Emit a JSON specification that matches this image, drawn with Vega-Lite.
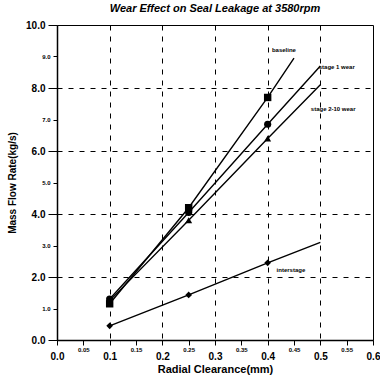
{
  "$schema": "https://vega.github.io/schema/vega-lite/v6.json",
  "width": 316,
  "height": 315,
  "autosize": {"type": "none"},
  "padding": {"left": 57, "top": 25, "right": 7, "bottom": 42},
  "background": "white",
  "config": {
    "font": "Liberation Sans",
    "view": {"stroke": "black", "strokeWidth": 1},
    "axis": {
      "domainColor": "black",
      "domainWidth": 1.5,
      "tickColor": "black",
      "labelColor": "black",
      "titleColor": "black",
      "gridColor": "black",
      "gridDash": [5, 6],
      "gridWidth": 1
    }
  },
  "title": {
    "text": "Wear Effect on Seal Leakage at 3580rpm",
    "fontSize": 11,
    "fontStyle": "italic",
    "fontWeight": "bold",
    "color": "black",
    "offset": 6
  },
  "datasets": {
    "flow": [
      {"series": "baseline", "clearance": 0.1, "rate": 1.15, "measured": true},
      {"series": "baseline", "clearance": 0.25, "rate": 4.2, "measured": true},
      {"series": "baseline", "clearance": 0.4, "rate": 7.7, "measured": true},
      {"series": "baseline", "clearance": 0.45, "rate": 8.95, "measured": false},
      {"series": "stage 1 wear", "clearance": 0.1, "rate": 1.3, "measured": true},
      {"series": "stage 1 wear", "clearance": 0.25, "rate": 4.05, "measured": true},
      {"series": "stage 1 wear", "clearance": 0.4, "rate": 6.85, "measured": true},
      {"series": "stage 1 wear", "clearance": 0.5, "rate": 8.7, "measured": false},
      {"series": "stage 2-10 wear", "clearance": 0.1, "rate": 1.25, "measured": true},
      {"series": "stage 2-10 wear", "clearance": 0.25, "rate": 3.8, "measured": true},
      {"series": "stage 2-10 wear", "clearance": 0.4, "rate": 6.4, "measured": true},
      {"series": "stage 2-10 wear", "clearance": 0.5, "rate": 8.1, "measured": false},
      {"series": "interstage", "clearance": 0.1, "rate": 0.45, "measured": true},
      {"series": "interstage", "clearance": 0.25, "rate": 1.43, "measured": true},
      {"series": "interstage", "clearance": 0.4, "rate": 2.45, "measured": true},
      {"series": "interstage", "clearance": 0.5, "rate": 3.1, "measured": false}
    ],
    "notes": [
      {"label": "baseline", "clearance": 0.408, "rate": 9.2},
      {"label": "stage 1 wear", "clearance": 0.497, "rate": 8.67},
      {"label": "stage 2-10 wear", "clearance": 0.482, "rate": 7.33},
      {"label": "interstage", "clearance": 0.417, "rate": 2.22}
    ]
  },
  "encoding": {
    "x": {
      "field": "clearance",
      "type": "quantitative",
      "scale": {"domain": [0, 0.6], "nice": false, "zero": false},
      "axis": {
        "title": "Radial Clearance(mm)",
        "titleFontSize": 11,
        "titleFontWeight": "bold",
        "titlePadding": 2,
        "values": [0, 0.05, 0.1, 0.15, 0.2, 0.25, 0.3, 0.35, 0.4, 0.45, 0.5, 0.55, 0.6],
        "labelExpr": "round(datum.value*100) % 10 == 5 ? format(datum.value, '.2f') : format(datum.value, '.1f')",
        "labelFontSize": {"condition": {"test": "round(datum.value*100) % 10 == 5", "value": 6}, "value": 10},
        "labelFontWeight": "bold",
        "labelPadding": {"condition": {"test": "round(datum.value*100) % 10 == 5", "value": 1}, "value": 6},
        "labelFlush": false,
        "labelOverlap": false,
        "labelBound": false,
        "tickSize": 5,
        "grid": true,
        "gridOpacity": {"condition": {"test": "round(datum.value*100) % 10 == 5 || datum.value == 0 || datum.value >= 0.6", "value": 0}, "value": 1}
      }
    },
    "y": {
      "field": "rate",
      "type": "quantitative",
      "scale": {"domain": [0, 10], "nice": false},
      "axis": {
        "title": "Mass Flow Rate(kg/s)",
        "titleFontSize": 10,
        "titleFontWeight": "bold",
        "titlePadding": 8,
        "values": [0, 1, 2, 3, 4, 5, 6, 7, 8, 9, 10],
        "format": ".1f",
        "labelFontSize": {"condition": {"test": "datum.value % 2 == 1", "value": 6}, "value": 10},
        "labelFontWeight": "bold",
        "labelPadding": 3,
        "labelOverlap": false,
        "labelBound": false,
        "tickSize": {"condition": {"test": "datum.value % 2 == 1", "value": 4}, "value": 9},
        "grid": true,
        "gridOpacity": {"condition": {"test": "datum.value % 2 == 1 || datum.value == 0 || datum.value == 10", "value": 0}, "value": 1}
      }
    }
  },
  "layer": [
    {
      "data": {"name": "flow"},
      "mark": {"type": "line", "color": "black", "strokeWidth": 1.4},
      "encoding": {
        "detail": {"field": "series"}
      }
    },
    {
      "data": {"name": "flow"},
      "transform": [{"filter": "datum.measured"}],
      "mark": {"type": "point", "filled": true, "color": "black", "opacity": 1},
      "encoding": {
        "shape": {
          "field": "series",
          "type": "nominal",
          "scale": {
            "domain": ["baseline", "stage 1 wear", "stage 2-10 wear", "interstage"],
            "range": ["square", "circle", "triangle-up", "diamond"]
          },
          "legend": null
        },
        "size": {
          "field": "series",
          "type": "nominal",
          "scale": {
            "domain": ["baseline", "stage 1 wear", "stage 2-10 wear", "interstage"],
            "range": [55, 45, 35, 25]
          },
          "legend": null
        }
      }
    },
    {
      "data": {"name": "notes"},
      "mark": {"type": "text", "align": "left", "baseline": "middle", "fontSize": 6, "fontWeight": "bold", "color": "black"},
      "encoding": {
        "text": {"field": "label"}
      }
    }
  ]
}
